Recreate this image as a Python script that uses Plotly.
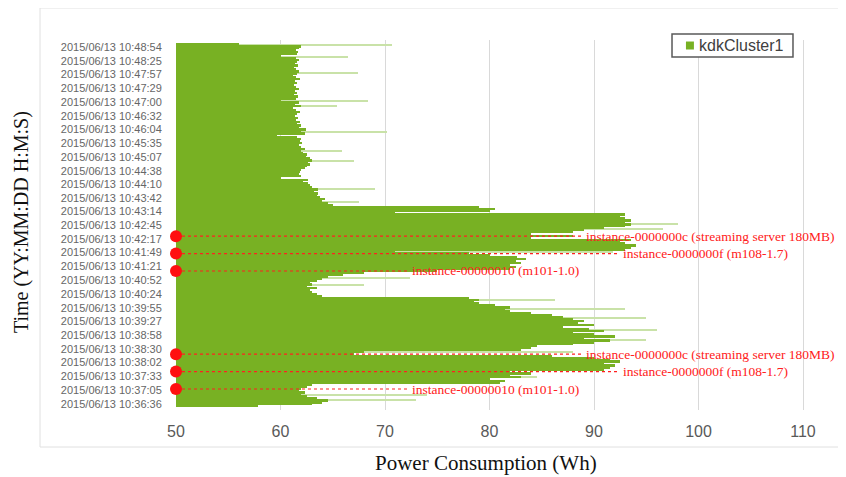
import plotly.graph_objects as go
import pandas as pd

# ---------------- data ----------------
series_name = "kdkCluster1"
sample_start = "2015-06-13 10:36:32"
sample_step_s = 4

# power consumption (Wh), one value per sample, chronological (bottom -> top)
power_wh = [
    57.8, 63, 64, 64.5, 63.5, 62.5, 62, 62.3, 61.8, 62,
    62.5, 63, 81, 81.5, 80, 83, 82, 84, 82, 91,
    91.5, 92, 91, 92.5, 91.5, 90, 86, 67, 68, 83,
    84, 84.5, 88, 90, 91.5, 89, 92, 90, 88, 91,
    89.5, 87, 90, 88.5, 89, 88, 87, 86, 84, 82,
    81.5, 82, 80.5, 79, 78.5, 79, 78, 64, 63.5, 63,
    62.8, 63.5, 62.5, 63, 62.8, 63.5, 64, 64.5, 66, 68,
    75, 82, 82.5, 82, 83, 82.5, 83.5, 82.6, 80, 78,
    71, 93, 93.5, 94, 93, 92.5, 93.5, 84, 88, 84,
    88, 89, 91, 93, 93.5, 93, 93.5, 93, 92.5, 93,
    71, 80, 80.5, 79, 65, 64.5, 64, 64.3, 63.8, 63.5,
    63.6, 63.2, 63.6, 63, 62.8, 62.6, 62.2, 62.6, 60, 62,
    61.8, 61.9, 62, 62.3, 62.5, 62.8, 62.6, 63, 62.8, 62.4,
    62.5, 62.2, 62, 62.3, 62, 61.8, 62.1, 61.9, 62, 61.6,
    59.7, 62.3, 62, 62.4, 61.8, 62, 61.6, 61.9, 61.5, 61.7,
    61.4, 61.6, 61.9, 61.5, 61.2, 62, 61.4, 61.8, 60, 61.5,
    61.7, 61.3, 61.6, 61.4, 61.8, 61.5, 61.3, 61.6, 61.4, 61.9,
    61.5, 61.2, 61.6, 61.8, 61.5, 61.3, 61.7, 61.4, 61.6, 61.8,
    61.5, 60, 61.6, 61.7, 61.5, 61.8, 62, 56,
]

# short single-second peaks (drawn thin)
spike_times = [
    "10:36:44", "10:36:55", "10:37:32", "10:38:24", "10:38:48", "10:39:09",
    "10:39:34", "10:39:52", "10:40:11", "10:40:42", "10:40:56", "10:41:50",
    "10:42:38", "10:42:48", "10:43:34", "10:44:01", "10:44:58", "10:45:19",
    "10:45:58", "10:46:52", "10:47:02", "10:48:00", "10:48:33", "10:48:58",
]
spike_wh = [
    73, 74, 84.5, 88, 95, 96,
    95, 93, 86.3, 68, 72.4, 91.8,
    96.6, 98, 67.5, 69, 67, 65.9,
    70.2, 65.4, 68.4, 67.4, 66.5, 70.7,
]

tick_times = [
    "10:36:36", "10:37:05", "10:37:33", "10:38:02", "10:38:30", "10:38:58",
    "10:39:27", "10:39:55", "10:40:24", "10:40:52", "10:41:21", "10:41:49",
    "10:42:17", "10:42:45", "10:43:14", "10:43:42", "10:44:10", "10:44:38",
    "10:45:07", "10:45:35", "10:46:04", "10:46:32", "10:47:00", "10:47:29",
    "10:47:57", "10:48:25", "10:48:54",
]
date_prefix = "2015-06-13 "
date_label_prefix = "2015/06/13 "

event_times = ["10:42:23", "10:41:47", "10:41:11", "10:38:19", "10:37:43", "10:37:07"]
event_labels = [
    "instance-0000000c (streaming server 180MB)",
    "instance-0000000f (m108-1.7)",
    "instance-00000010 (m101-1.0)",
    "instance-0000000c (streaming server 180MB)",
    "instance-0000000f (m108-1.7)",
    "instance-00000010 (m101-1.0)",
]
event_label_x = [89.0, 92.6, 72.4, 89.0, 92.6, 72.4]

x_ticks = [50, 60, 70, 80, 90, 100, 110]

# ---------------- figure ----------------
GREEN = "#78B123"
LIGHT_GREEN = "#C9E2A8"
RED = "#FF2020"

times = pd.date_range(sample_start, periods=len(power_wh), freq=f"{sample_step_s}s")

fig = go.Figure()

fig.add_trace(go.Bar(
    x=spike_wh, y=[date_prefix + t for t in spike_times], orientation="h",
    width=1600, marker=dict(color=LIGHT_GREEN, line=dict(width=0)),
    showlegend=False, hoverinfo="skip",
))
fig.add_trace(go.Bar(
    x=power_wh, y=times, orientation="h", name=series_name,
    width=sample_step_s * 1000, marker=dict(color=GREEN, line=dict(width=0)),
    showlegend=False,
))

for t, lx in zip(event_times, event_label_x):
    fig.add_trace(go.Scatter(
        x=[50, lx - 0.2], y=[date_prefix + t] * 2, mode="lines",
        line=dict(color=RED, width=1.2, dash="dot"),
        showlegend=False, hoverinfo="skip",
    ))

fig.add_trace(go.Scatter(
    x=[50] * len(event_times), y=[date_prefix + t for t in event_times],
    mode="markers", marker=dict(color="#FF1010", size=12),
    showlegend=False, cliponaxis=False, hoverinfo="skip",
))

annotations = []
for t, lab, lx in zip(event_times, event_labels, event_label_x):
    annotations.append(dict(
        x=lx, y=date_prefix + t, xref="x", yref="y", text=lab,
        showarrow=False, xanchor="left", yanchor="middle",
        font=dict(family="Liberation Serif", size=13.5, color=RED),
    ))

annotations.append(dict(
    x=-0.2334, y=0.508, xref="paper", yref="paper", text="Time (YY:MM:DD H:M:S)",
    showarrow=False, xanchor="center", yanchor="middle", textangle=-90,
    font=dict(family="Liberation Serif", size=20, color="#111111"),
))
annotations.append(dict(
    x=0.467, y=-0.143, xref="paper", yref="paper", text="Power Consumption (Wh)",
    showarrow=False, xanchor="center", yanchor="middle",
    font=dict(family="Liberation Serif", size=21, color="#111111"),
))
# legend (drawn as box + swatch + text)
annotations.append(dict(
    x=0.7846, y=0.9846, xref="paper", yref="paper", text=series_name,
    showarrow=False, xanchor="left", yanchor="middle",
    font=dict(family="Liberation Sans", size=16, color="#404040"),
))

shapes = [
    dict(type="rect", xref="paper", yref="paper",
         x0=-0.2048, x1=1.0015, y0=-0.1, y1=1.0865,
         line=dict(color="#E0E0E0", width=1), layer="below"),
    dict(type="rect", xref="paper", yref="paper",
         x0=0.747, x1=0.9292, y0=0.954, y1=1.0162,
         line=dict(color="#595959", width=1.5), fillcolor="white", layer="above"),
    dict(type="rect", xref="paper", yref="paper",
         x0=0.768, x1=0.780, y0=0.9743, y1=0.9959,
         line=dict(width=0), fillcolor=GREEN, layer="above"),
]

fig.update_layout(
    width=838, height=469,
    margin=dict(l=168, r=6, t=32, b=67),
    paper_bgcolor="white", plot_bgcolor="white",
    barmode="overlay", bargap=0,
    showlegend=False,
    annotations=annotations,
    shapes=shapes,
    xaxis=dict(
        range=[50, 113.54], tickvals=x_ticks, showgrid=True,
        gridcolor="#D9D9D9", gridwidth=1, zeroline=False, showline=False,
        ticks="outside", ticklen=7, tickcolor="rgba(0,0,0,0)",
        tickfont=dict(family="Liberation Sans", size=16, color="#595959"),
    ),
    yaxis=dict(
        type="date",
        range=["2015-06-13 10:36:23.6", "2015-06-13 10:49:08.5"],
        tickvals=[date_prefix + t for t in tick_times],
        ticktext=[date_label_prefix + t for t in tick_times],
        showgrid=False, zeroline=False, showline=False,
        ticks="outside", ticklen=11, tickcolor="rgba(0,0,0,0)",
        tickfont=dict(family="Liberation Sans", size=11, color="#666666"),
    ),
)

fig.write_html("out.html")
